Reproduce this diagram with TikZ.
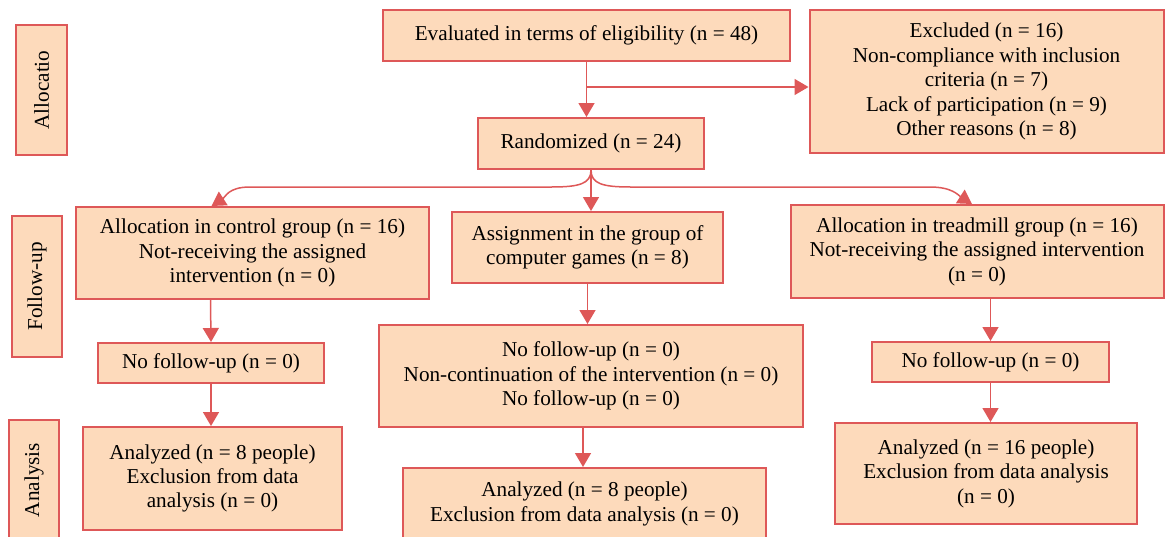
\documentclass[tikz,border=0pt]{standalone}
\usepackage{fontspec}
\setmainfont{Liberation Serif}
\usetikzlibrary{arrows.meta}
\definecolor{boxfill}{RGB}{253,218,187}
\definecolor{boxline}{RGB}{222,88,88}
\tikzset{
	flowbox/.style={draw=boxline,fill=boxfill,line width=1pt,align=center,inner sep=2pt,
		font=\fontsize{10.6}{12.2}\selectfont},
	phasebox/.style={flowbox,rotate=90},
	arr/.style={draw=boxline,line width=0.75pt,-{Triangle[width=8pt,length=7pt]}},
	link/.style={draw=boxline,line width=0.75pt}
}
\begin{document}
\begin{tikzpicture}[x=0.5pt,y=-0.5pt]
	\useasboundingbox (0,0) rectangle (1165,536);
	% phases
	\node[phasebox,minimum width=65pt,minimum height=25.5pt] (alloc) at (41.5,90) {Allocatio};
	\node[phasebox,minimum width=70.5pt,minimum height=25pt] (follow) at (37,286.5) {Follow-up};
	\node[phasebox,minimum width=60pt,minimum height=25pt] (anal) at (34,480) {Analysis};
	% enrolment
	\node[flowbox,minimum width=203.5pt,minimum height=25.5pt] (elig) at (586.5,35.5) {Evaluated in terms of eligibility (n = 48)};
	\node[flowbox,minimum width=177pt,minimum height=71.5pt] (excl) at (986.5,81.5)
		{Excluded (n = 16)\\Non-compliance with inclusion\\criteria (n = 7)\\Lack of participation (n = 9)\\Other reasons (n = 8)};
	\node[flowbox,minimum width=113pt,minimum height=25.5pt] (rand) at (591,143.5) {Randomized (n = 24)};
	% groups
	\node[flowbox,minimum width=176.5pt,minimum height=46pt] (ctrl) at (252.5,253)
		{Allocation in control group (n = 16)\\Not-receiving the assigned\\intervention (n = 0)};
	\node[flowbox,minimum width=135.5pt,minimum height=35.5pt] (game) at (587.5,247.5)
		{Assignment in the group of\\computer games (n = 8)};
	\node[flowbox,minimum width=186.5pt,minimum height=46.5pt] (tread) at (977,251.5)
		{Allocation in treadmill group (n = 16)\\Not-receiving the assigned intervention\\(n = 0)};
	% follow-up
	\node[flowbox,minimum width=113pt,minimum height=20pt] (nofl) at (211,363) {No follow-up (n = 0)};
	\node[flowbox,minimum width=212pt,minimum height=51pt] (nofm) at (591,376)
		{No follow-up (n = 0)\\Non-continuation of the intervention (n = 0)\\No follow-up (n = 0)};
	\node[flowbox,minimum width=118.5pt,minimum height=20pt] (nofr) at (990.5,362) {No follow-up (n = 0)};
	% analysis
	\node[flowbox,minimum width=129.5pt,minimum height=51.5pt] (anl) at (212.5,478.5)
		{Analyzed (n = 8 people)\\Exclusion from data\\analysis (n = 0)};
	\node[flowbox,minimum width=181.5pt,minimum height=36pt] (anm) at (584.5,504)
		{Analyzed (n = 8 people)\\Exclusion from data analysis (n = 0)};
	\node[flowbox,minimum width=151pt,minimum height=50.5pt] (anr) at (986,473.5)
		{Analyzed (n = 16 people)\\Exclusion from data analysis\\(n = 0)};
	% connectors
	\coordinate (split) at (586,87);
	\coordinate (ltip) at ([xshift=-20.5pt]ctrl.north);
	\coordinate (rtip) at ([xshift=-2.5pt]tread.north);
	\draw[arr] (elig.south) -- (elig.south |- rand.north);
	\draw[arr] (split) -- (split -| excl.west);
	\draw[arr] (rand.south) -- (rand.south |- game.north);
	\draw[arr] (rand.south) .. controls +(0,14) and +(28,0) .. ++(-40,17) -- (250,187) .. controls +(-22,0) and +(14,-9) .. (ltip);
	\draw[arr] (rand.south) .. controls +(0,14) and +(-28,0) .. ++(40,17) -- (930,187) .. controls +(22,0) and +(-14,-9) .. (rtip);
	\draw[arr] ([xshift=-21pt]ctrl.south) -- (nofl.north);
	\draw[arr] (nofl.south) -- (anl.north -| nofl.south);
	\draw[arr] (game.south) -- (game.south |- nofm.north);
	\draw[arr] ([xshift=-4pt]nofm.south) -- ([xshift=-4pt]nofm.south |- anm.north);
	\draw[arr] (tread.south -| nofr.north) -- (nofr.north);
	\draw[arr] (nofr.south) -- (nofr.south |- anr.north);
\end{tikzpicture}
\end{document}
